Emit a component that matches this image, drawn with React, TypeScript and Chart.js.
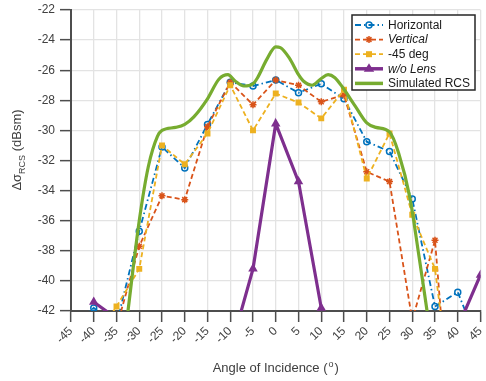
import React, { useEffect, useRef } from "react";
import { Chart, registerables } from "chart.js";

Chart.register(...registerables);

const angles = [-45, -40, -35, -30, -25, -20, -15, -10, -5, 0, 5, 10, 15, 20, 25, 30, 35, 40, 45];
const horizontal = [-43, -41.8, -42.9, -36.7, -31.1, -32.5, -29.6, -26.8, -27.05, -26.65, -27.5, -26.9, -27.9, -30.75, -31.4, -34.55, -41.7, -40.75, -44.5];
const vertical = [-44, -43.5, -43.1, -37.7, -34.35, -34.6, -29.75, -26.8, -28.3, -26.65, -27.0, -28.1, -27.65, -32.75, -33.4, -42.6, -37.3, -56, -50];
const deg45 = [-44, -44, -41.7, -39.2, -31.0, -32.25, -30.2, -27.0, -30.0, -27.55, -28.15, -29.2, -27.3, -33.2, -30.2, -35.6, -39.2, -51, -50];
const noLens: (number | null)[] = [null, -41.4, -42.5, null, null, null, null, -44.6, -39.2, -29.55, -33.4, -41.8, null, null, null, null, null, -43.1, -39.6];

const simAngles = [-32.6, -30, -28, -26, -25, -22, -20, -18, -15, -12.5, -10.5, -9, -7, -5, -4, -2, 0, 1, 3, 5, 6, 8, 10, 11.5, 13, 14.6, 17.5, 20, 22, 25, 27, 29.5, 31.4, 33.4];
const simValues = [-42.3, -36, -32.4, -30.4, -30.0, -29.8, -29.6, -29.1, -27.9, -26.6, -26.3, -26.7, -27.05, -26.9, -26.5, -25.3, -24.45, -24.5, -25.2, -26.3, -26.7, -27.0, -26.55, -26.3, -26.5, -27.1, -28.4, -29.5, -29.8, -30.1, -31.5, -34.5, -38.2, -42.3];

const yTicksMin = -42;
const yTicksMax = -22;
const xTicksMin = -45;
const xTicksMax = 45;

const C_BLUE = "#0072BD";
const C_ORANGE = "#D95319";
const C_YELLOW = "#EDB120";
const C_PURPLE = "#7E2F8E";
const C_GREEN = "#77AC30";
const FONT = "'Liberation Sans', Arial, sans-serif";
const DASH_DOT = [6, 3, 1.5, 3];
const DASH = [5, 3];

function pts(xs: number[], ys: (number | null)[]) {
  return xs.map((x, i) => ({ x, y: ys[i] }));
}

function drawMarker(ctx: CanvasRenderingContext2D, kind: string, x: number, y: number, color: string) {
  ctx.save();
  ctx.strokeStyle = color;
  ctx.fillStyle = color;
  ctx.setLineDash([]);
  if (kind === "circle") {
    ctx.lineWidth = 1.5;
    ctx.beginPath();
    ctx.arc(x, y, 3, 0, Math.PI * 2);
    ctx.stroke();
  } else if (kind === "star") {
    ctx.lineWidth = 1.5;
    const r = 3.5;
    ctx.beginPath();
    ctx.moveTo(x - r, y); ctx.lineTo(x + r, y);
    ctx.moveTo(x, y - r); ctx.lineTo(x, y + r);
    ctx.moveTo(x - r * 0.7, y - r * 0.7); ctx.lineTo(x + r * 0.7, y + r * 0.7);
    ctx.moveTo(x - r * 0.7, y + r * 0.7); ctx.lineTo(x + r * 0.7, y - r * 0.7);
    ctx.stroke();
  } else if (kind === "rect") {
    ctx.fillRect(x - 3, y - 3, 6, 6);
  } else if (kind === "triangle") {
    const r = 5.5;
    ctx.beginPath();
    ctx.moveTo(x, y - r);
    ctx.lineTo(x + r * 0.95, y + r * 0.55);
    ctx.lineTo(x - r * 0.95, y + r * 0.55);
    ctx.closePath();
    ctx.fill();
  }
  ctx.restore();
}

const overlayPlugin = {
  id: "overlay",
  afterDraw(chart: any) {
    const ctx: CanvasRenderingContext2D = chart.ctx;
    const area = chart.chartArea;
    ctx.save();
    // Legend
    const bx = 352, by = 15, bw = 123, bh = 75;
    ctx.fillStyle = "#ffffff";
    ctx.fillRect(bx, by, bw, bh);
    ctx.strokeStyle = "#262626";
    ctx.lineWidth = 1.5;
    ctx.strokeRect(bx, by, bw, bh);
    const entries = [
      { label: "Horizontal", color: C_BLUE, dash: DASH_DOT, width: 1.8, marker: "circle", italic: false },
      { label: "Vertical", color: C_ORANGE, dash: DASH, width: 1.8, marker: "star", italic: true },
      { label: "-45 deg", color: C_YELLOW, dash: DASH, width: 1.8, marker: "rect", italic: false },
      { label: "w/o Lens", color: C_PURPLE, dash: [], width: 3.5, marker: "triangle", italic: true },
      { label: "Simulated RCS", color: C_GREEN, dash: [], width: 3.5, marker: "", italic: false },
    ];
    entries.forEach((e, i) => {
      const y = 25 + i * 14.6;
      ctx.save();
      ctx.strokeStyle = e.color;
      ctx.lineWidth = e.width;
      ctx.setLineDash(e.dash);
      ctx.beginPath();
      ctx.moveTo(355, y);
      ctx.lineTo(383, y);
      ctx.stroke();
      ctx.restore();
      if (e.marker) drawMarker(ctx, e.marker, 369, y, e.color);
      ctx.fillStyle = "#1a1a1a";
      ctx.font = (e.italic ? "italic " : "") + "12px " + FONT;
      ctx.textAlign = "left";
      ctx.textBaseline = "middle";
      ctx.fillText(e.label, 388, y + 0.5);
    });

    // X title
    ctx.fillStyle = "#404040";
    ctx.textBaseline = "alphabetic";
    const cx = (area.left + area.right) / 2;
    const main = "Angle of Incidence (";
    const sup = "o";
    const end = ")";
    ctx.font = "13px " + FONT;
    const w1 = ctx.measureText(main).width;
    const w3 = ctx.measureText(end).width;
    ctx.font = "9px " + FONT;
    const w2 = ctx.measureText(sup).width;
    const total = w1 + w2 + w3 + 2;
    let x0 = cx - total / 2;
    const baseY = 372;
    ctx.textAlign = "left";
    ctx.font = "13px " + FONT;
    ctx.fillText(main, x0, baseY);
    ctx.font = "9px " + FONT;
    ctx.fillText(sup, x0 + w1 + 1, baseY - 5);
    ctx.font = "13px " + FONT;
    ctx.fillText(end, x0 + w1 + w2 + 2, baseY);

    // Y title
    ctx.save();
    ctx.translate(21, 150);
    ctx.rotate(-Math.PI / 2);
    const a = "\u0394\u03c3";
    const s = "RCS";
    const b = " (dBsm)";
    ctx.font = "13px " + FONT;
    const wa = ctx.measureText(a).width;
    const wb = ctx.measureText(b).width;
    ctx.font = "9px " + FONT;
    const ws = ctx.measureText(s).width;
    const tot = wa + ws + wb;
    let lx = -tot / 2;
    ctx.font = "13px " + FONT;
    ctx.fillText(a, lx, 0);
    ctx.font = "9px " + FONT;
    ctx.fillText(s, lx + wa, 4);
    ctx.font = "13px " + FONT;
    ctx.fillText(b, lx + wa + ws, 0);
    ctx.restore();
    ctx.restore();
  },
};

export default function App() {
  const ref = useRef<HTMLCanvasElement | null>(null);
  useEffect(() => {
    if (!ref.current) return;
    const chart = new Chart(ref.current, {
      type: "line",
      data: {
        datasets: [
          {
            label: "Horizontal",
            data: pts(angles, horizontal),
            borderColor: C_BLUE,
            backgroundColor: "rgba(0,0,0,0)",
            borderWidth: 1.8,
            borderDash: DASH_DOT,
            pointStyle: "circle",
            pointRadius: 3,
            pointBorderWidth: 1.5,
            pointBorderColor: C_BLUE,
            pointBackgroundColor: "rgba(0,0,0,0)",
            order: 5,
          },
          {
            label: "Vertical",
            data: pts(angles, vertical),
            borderColor: C_ORANGE,
            backgroundColor: C_ORANGE,
            borderWidth: 1.8,
            borderDash: DASH,
            pointStyle: "star",
            pointRadius: 3.5,
            pointBorderWidth: 1.5,
            pointBorderColor: C_ORANGE,
            order: 4,
          },
          {
            label: "-45 deg",
            data: pts(angles, deg45),
            borderColor: C_YELLOW,
            backgroundColor: C_YELLOW,
            borderWidth: 1.8,
            borderDash: DASH,
            pointStyle: "rect",
            pointRadius: 4.2,
            pointBorderWidth: 0,
            pointBackgroundColor: C_YELLOW,
            order: 3,
          },
          {
            label: "w/o Lens",
            data: pts(angles, noLens),
            borderColor: C_PURPLE,
            backgroundColor: C_PURPLE,
            borderWidth: 3.2,
            pointStyle: "triangle",
            pointRadius: 5.5,
            pointBorderWidth: 0,
            pointBackgroundColor: C_PURPLE,
            spanGaps: false,
            order: 2,
          },
          {
            label: "Simulated RCS",
            data: pts(simAngles, simValues),
            borderColor: C_GREEN,
            backgroundColor: C_GREEN,
            borderWidth: 3.2,
            pointRadius: 0,
            cubicInterpolationMode: "monotone",
            order: 1,
          },
        ] as any,
      },
      options: {
        animation: false,
        responsive: false,
        devicePixelRatio: 1,
        layout: { padding: { left: 0, top: 10, right: 4, bottom: 0 } },
        plugins: { legend: { display: false }, tooltip: { enabled: false } },
        scales: {
          x: {
            type: "linear",
            min: xTicksMin,
            max: xTicksMax,
            afterFit: (scale: any) => {
              scale.height = 70;
              scale.paddingLeft = 0;
              scale.paddingRight = 0;
            },
            ticks: {
              stepSize: 5,
              autoSkip: false,
              minRotation: 45,
              maxRotation: 45,
              color: "#404040",
              font: { family: FONT, size: 12 },
              padding: 2,
            },
            grid: {
              color: "#e3e3e3",
              lineWidth: 1.3,
              tickColor: "#4d4d4d",
              tickLength: 11,
              tickWidth: 1.5,
            },
            border: { display: true, color: "#4d4d4d", width: 2 },
          },
          y: {
            type: "linear",
            min: yTicksMin,
            max: yTicksMax,
            afterFit: (scale: any) => {
              scale.width = 71;
              scale.paddingTop = 0;
              scale.paddingBottom = 0;
            },
            ticks: {
              stepSize: 2,
              color: "#404040",
              font: { family: FONT, size: 12 },
              padding: 5,
            },
            grid: {
              color: "#e3e3e3",
              lineWidth: 1.3,
              tickColor: "#4d4d4d",
              tickLength: 11,
              tickWidth: 1.5,
            },
            border: { display: true, color: "#4d4d4d", width: 2 },
          },
        },
      },
      plugins: [overlayPlugin],
    });
    return () => chart.destroy();
  }, []);
  return (
    <div style={{ position: "fixed", left: 0, top: 0, width: 486, height: 381, background: "#fff" }}>
      <canvas ref={ref} width={486} height={381} style={{ width: 486, height: 381, display: "block" }} />
    </div>
  );
}
